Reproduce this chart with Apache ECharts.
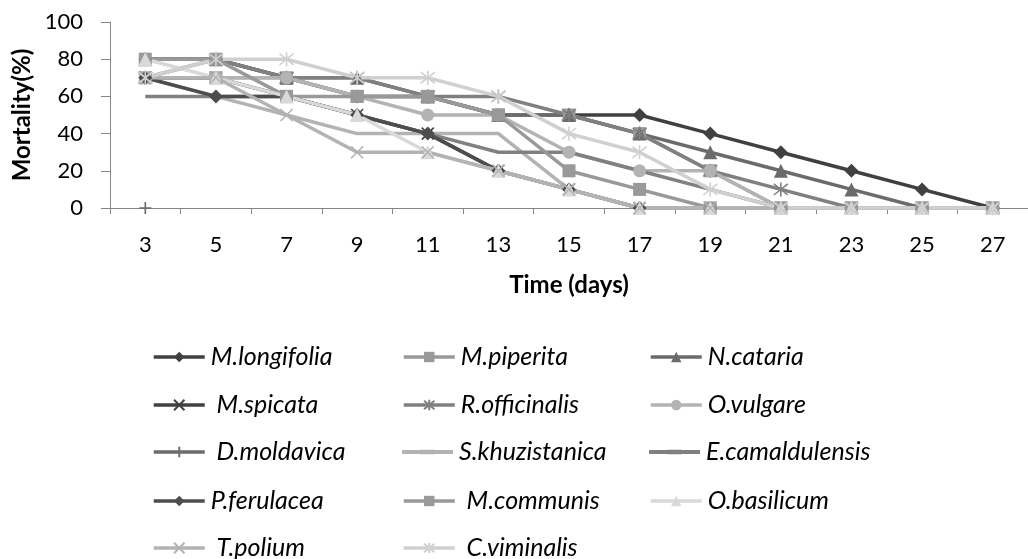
<!DOCTYPE html>
<html><head><meta charset="utf-8">
<script src="https://cdn.jsdelivr.net/npm/echarts@6/dist/echarts.min.js"></script>
<style>html,body{margin:0;padding:0;background:#fff}#c{width:1028px;height:559px}</style>
</head><body><div id="c"></div>
<script>
var days = ['3','5','7','9','11','13','15','17','19','21','23','25','27'];
var yTicks = [0,20,40,60,80,100];

var mLongifolia   = [80,80,70,60,60,50,50,50,40,30,20,10,0];
var mPiperita     = [70,70,70,60,60,50,50,40,20,0,0,0,0];
var nCataria      = [80,80,70,70,60,50,50,40,30,20,10,0,0];
var mSpicata      = [70,70,60,50,40,20,10,0,0,0,0,0,0];
var rOfficinalis  = [70,80,70,70,60,60,50,40,20,10,0,0,0];
var oVulgare      = [70,70,70,60,50,50,30,20,20,0,0,0,0];
var dMoldavica    = [0,null,null,null,null,null,null,null,null,null,null,null,null];
var sKhuzistanica = [70,60,50,40,40,40,10,0,0,0,0,0,0];
var eCamaldulensis= [60,60,60,50,40,30,30,20,10,0,0,0,0];
var pFerulacea    = [70,60,60,50,40,20,10,0,0,0,0,0,0];
var mCommunis     = [80,80,60,60,60,50,20,10,0,0,0,0,0];
var oBasilicum    = [80,70,60,50,30,20,10,0,0,0,0,0,0];
var tPolium       = [70,70,50,30,30,20,10,0,0,0,0,0,0];
var cViminalis    = [70,80,80,70,70,60,40,30,10,0,0,0,0];

var X = 'path://M0,0L10,10M10,0L0,10';
var STAR = 'path://M1,1L9,9M9,1L1,9M5,0L5,10';
var PLUS = 'path://M5,0L5,10M0,5L10,5';
var BAR = 'path://M0,4.6L51,4.6L51,8.4L0,8.4Z M18,4.2L33,4.2L33,8.8L18,8.8Z';

var noMarker = {};

function s(name, data, color, symbol, size, stroke) {
  if (symbol === 'none') noMarker[name] = true;
  return {
    name: name, type: 'line', data: data,
    symbol: symbol, symbolSize: size,
    showSymbol: symbol !== 'none',
    lineStyle: {color: color, width: 3.5},
    itemStyle: stroke ? {color: color, borderColor: color, borderWidth: 1.6} : {color: color},
    emphasis: {disabled: true},
    animation: false
  };
}

var series = [
  s('M.longifolia', mLongifolia, '#404040', 'diamond', 14),
  s('M.piperita', mPiperita, '#999999', 'rect', 13),
  s('N.cataria', nCataria, '#6b6b6b', 'triangle', 14),
  s(' M.spicata', mSpicata, '#404040', X, 12, true),
  s('R.officinalis', rOfficinalis, '#808080', STAR, 14, true),
  s('O.vulgare', oVulgare, '#b3b3b3', 'circle', 13),
  s(' D.moldavica', dMoldavica, '#6b6b6b', PLUS, 12, true),
  s('S.khuzistanica', sKhuzistanica, '#b3b3b3', 'none', 0),
  s('E.camaldulensis', eCamaldulensis, '#808080', 'none', 0),
  s('P.ferulacea', pFerulacea, '#4d4d4d', 'diamond', 14),
  s(' M.communis', mCommunis, '#999999', 'rect', 13),
  s('O.basilicum', oBasilicum, '#d9d9d9', 'triangle', 14),
  s(' T.polium', tPolium, '#b3b3b3', X, 12, true),
  s(' C.viminalis', cViminalis, '#d0d0d0', STAR, 14, true)
];

var colLeft = [152, 402, 649];
var rowMid = [357, 405, 452, 501, 548];
var grid3 = [
  ['M.longifolia','M.piperita','N.cataria'],
  [' M.spicata','R.officinalis','O.vulgare'],
  [' D.moldavica','S.khuzistanica','E.camaldulensis'],
  ['P.ferulacea',' M.communis','O.basilicum'],
  [' T.polium',' C.viminalis',null]
];
var legends = [];
grid3.forEach(function (row, r) {
  row.forEach(function (nm, c) {
    if (!nm) return;
    var item = noMarker[nm] ? {name: nm, icon: BAR} : nm;
    legends.push({
      left: colLeft[c], top: rowMid[r] - 13, padding: 0,
      itemWidth: 51, itemHeight: 13, itemGap: 0,
      selectedMode: false,
      lineStyle: {width: 3.5},
      textStyle: {fontFamily: 'Lato', fontStyle: 'italic', fontSize: 25, lineHeight: 26, color: '#000', padding: [0,0,0,1]},
      data: [item]
    });
  });
});

var chart = echarts.init(document.getElementById('c'));
chart.setOption({
  animation: false,
  backgroundColor: '#fff',
  grid: {left: 110, top: 22, width: 923, height: 186, containLabel: false},
  legend: legends,
  xAxis: {
    type: 'category', data: days, boundaryGap: true,
    name: 'Time (days)', nameLocation: 'middle', nameGap: 65,
    nameTextStyle: {fontFamily: 'Lato', fontWeight: 'bold', fontSize: 24, color: '#000'},
    axisLine: {lineStyle: {color: '#868686', width: 1}},
    axisTick: {show: true, alignWithLabel: false, length: 6, lineStyle: {color: '#868686'}},
    axisLabel: {margin: 26, fontFamily: 'Lato', fontSize: 22, color: '#000'},
    splitLine: {show: false}
  },
  yAxis: {
    type: 'value', min: 0, max: 100, interval: 20,
    name: 'Mortality(%)', nameLocation: 'middle', nameGap: 75, nameRotate: 90,
    nameTextStyle: {fontFamily: 'Lato', fontWeight: 'bold', fontSize: 24, color: '#000'},
    axisLine: {show: true, lineStyle: {color: '#868686', width: 1}},
    axisTick: {show: true, length: 9, lineStyle: {color: '#868686'}},
    axisLabel: {margin: 27, fontFamily: 'Lato', fontSize: 22, color: '#000',
      formatter: function (v) { return yTicks.indexOf(v) >= 0 ? String(v) : ''; }},
    splitLine: {show: false}
  },
  series: series
});
</script></body></html>
